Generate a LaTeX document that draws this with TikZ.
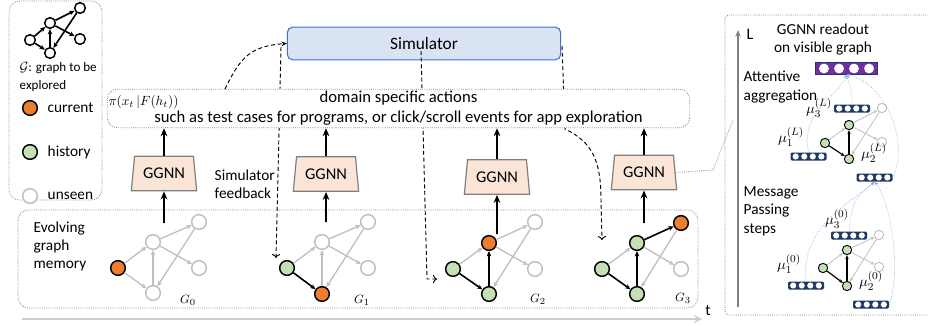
\documentclass[tikz,border=0pt]{standalone}
\usepackage{fontspec}
\setmainfont{Carlito}
\usetikzlibrary{shapes.geometric,arrows.meta}

\definecolor{orng}{RGB}{237,125,49}
\definecolor{grn}{RGB}{197,224,180}
\definecolor{lgray}{RGB}{191,191,191}
\definecolor{dgray}{RGB}{127,127,127}
\definecolor{peach}{RGB}{251,229,214}
\definecolor{simfill}{RGB}{218,227,243}
\definecolor{simline}{RGB}{68,114,196}
\definecolor{purp}{RGB}{112,48,160}
\definecolor{navy}{RGB}{31,56,100}
\definecolor{lblue}{RGB}{143,170,220}
\definecolor{tgray}{RGB}{205,205,205}

\tikzset{
  dotbox/.style={draw=dgray,densely dotted,line width=0.6pt,rounded corners=8pt},
  lnode/.style={circle,draw,line width=1.1pt,fill=white,minimum size=8pt,inner sep=0pt},
  cur/.style={circle,draw,line width=1.1pt,fill=orng,minimum size=11pt,inner sep=0pt},
  hist/.style={cur,fill=grn},
  unseen/.style={cur,draw=lgray,fill=white},
  gedge/.style={-{Stealth[length=4pt,width=3.5pt]},draw=lgray,line width=1pt},
  bedge/.style={-{Stealth[length=4pt,width=3.5pt]},line width=1.2pt},
  ggnn/.style={trapezium,trapezium stretches=true,trapezium left angle=78,trapezium right angle=78,
    draw=dgray,fill=peach,line width=0.9pt,minimum width=49pt,minimum height=26pt,inner sep=0pt,
    font=\fontsize{12.3}{14}\selectfont},
  up/.style={-{Stealth[length=6pt,width=5pt]},line width=1.4pt},
  dsh/.style={dash pattern=on 3pt off 2pt,line width=0.7pt},
  txt/.style={font=\fontsize{11.5}{13.5}\selectfont,align=left},
  pnode/.style={circle,draw,line width=0.7pt,fill=grn,minimum size=7pt,inner sep=0pt},
  pempty/.style={pnode,draw=lgray,fill=white},
  pgedge/.style={-{Stealth[length=3pt,width=2.5pt]},draw=lgray,line width=0.6pt},
  pbedge/.style={-{Stealth[length=3pt,width=2.5pt]},line width=0.9pt},
  vec/.style={fill=navy,rounded corners=1pt,minimum width=27pt,minimum height=6pt,inner sep=0pt},
  bigvec/.style={fill=purp,draw=navy,line width=0.6pt,minimum width=47pt,minimum height=8.5pt,inner sep=0pt},
  bl/.style={-{Stealth[length=3pt,width=2.5pt]},draw=lblue,densely dotted,line width=0.5pt},
  mu/.style={font=\fontsize{11}{13}\selectfont}
}

\begin{document}
\begin{tikzpicture}[x=0.75pt,y=-0.75pt]
\useasboundingbox (0,0) rectangle (928,325);

% legend
\draw[dotbox] (9,1) rectangle (102,200);
\node[lnode] (la) at (30,40) {};
\node[lnode] (lt) at (50,23) {};
\node[lnode] (lu) at (80,8) {};
\node[lnode] (lr) at (80,39) {};
\node[lnode] (lb) at (50,53) {};
\draw[bedge] (la)--(lt);
\draw[bedge] (la)--(lb);
\draw[bedge] (lb)--(lt);
\draw[bedge] (lt)--(lu);
\draw[bedge] (lu)--(lb);
\draw[bedge] (lt)--(lr);
\node[anchor=west,align=left,font=\fontsize{9.8}{13.2}\selectfont] (lg) at (15,77) {$\mathcal{G}$: graph to be\\explored};
\node[cur] (k1) at (30,108) {};
\node[hist] (k2) at (30,152) {};
\node[unseen] (k3) at (30,196) {};
\node[txt,anchor=west] at (43,108) {current};
\node[txt,anchor=west] at (43,152) {history};
\node[txt,anchor=west] at (43,196) {unseen};

% evolving graph memory
\draw[dotbox] (18,210) rectangle (698,308);
\node[txt,anchor=west] (mem) at (29,246) {Evolving\\graph\\memory};

\node[cur] (a0) at (118,268) {};
\node[unseen] (t0) at (153,242) {};
\node[unseen] (u0) at (199,222) {};
\node[unseen] (r0) at (199,268) {};
\node[unseen] (b0) at (153,293) {};
\draw[gedge] (a0)--(t0);
\draw[gedge] (a0)--(b0);
\draw[gedge] (b0)--(t0);
\draw[gedge] (t0)--(u0);
\draw[gedge] (u0)--(b0);
\draw[gedge] (t0)--(r0);
\node[font=\fontsize{9.5}{11}\selectfont] at (188,300) {$G_0$};

\node[hist] (a1) at (287,268) {};
\node[unseen] (t1) at (322,242) {};
\node[unseen] (u1) at (368,222) {};
\node[unseen] (r1) at (368,268) {};
\node[cur] (b1) at (322,294) {};
\draw[gedge] (a1)--(t1);
\draw[gedge] (b1)--(t1);
\draw[gedge] (t1)--(u1);
\draw[gedge] (u1)--(b1);
\draw[gedge] (t1)--(r1);
\draw[bedge] (a1)--(b1);
\node[font=\fontsize{9.5}{11}\selectfont] at (362,300) {$G_1$};

\node[hist] (a2) at (453,269) {};
\node[cur] (t2) at (489,243) {};
\node[unseen] (u2) at (535,222) {};
\node[unseen] (r2) at (535,269) {};
\node[hist] (b2) at (489,294) {};
\draw[gedge] (a2)--(t2);
\draw[gedge] (t2)--(u2);
\draw[gedge] (u2)--(b2);
\draw[gedge] (t2)--(r2);
\draw[bedge] (a2)--(b2);
\draw[bedge] (b2)--(t2);
\node[font=\fontsize{9.5}{11}\selectfont] at (538,299) {$G_2$};

\node[hist] (a3) at (602,269) {};
\node[hist] (t3) at (637,243) {};
\node[cur] (u3) at (681,223) {};
\node[unseen] (r3) at (681,269) {};
\node[hist] (b3) at (637,294) {};
\draw[gedge] (a3)--(t3);
\draw[gedge] (u3)--(b3);
\draw[gedge] (t3)--(r3);
\draw[bedge] (a3)--(b3);
\draw[bedge] (b3)--(t3);
\draw[bedge] (t3)--(u3);
\node[font=\fontsize{9.5}{11}\selectfont] at (683,298) {$G_3$};

% time axis
\draw[tgray,line width=2.2pt,-{Stealth[length=6pt,width=6pt]}] (22,319) -- (702,319);
\node[font=\fontsize{12}{14}\selectfont] (t) at (708,310) {t};

% simulator and feedback
\node[draw=simline,fill=simfill,rounded corners=4pt,line width=0.8pt,minimum width=205pt,minimum height=24.5pt,
  font=\fontsize{13}{15}\selectfont] (sim) at (424,43.5) {Simulator};
\coordinate (s1) at (281,47);
\coordinate (f1) at (276,258);
\coordinate (s2) at (421,51);
\coordinate (f2) at (437,279);
\coordinate (s3) at (562,46);
\coordinate (f3) at (602,240);
\draw[dsh,-{To[length=3pt]}] (s1) -- (f1);
\draw[dsh,-{To[length=3pt]}] (s2) -- (427,279) -- (f2);
\draw[dsh,-{To[length=3pt]}] (s3) -- (565,129) .. controls (592,142) and (601,160) .. (601,200) -- (f3);
\node[txt,anchor=west] (fb) at (210,184) {Simulator\\feedback};

% actions
\node[dotbox,fill=white,minimum width=437pt,minimum height=29pt,inner sep=0pt,align=center,
  font=\fontsize{12.5}{15}\selectfont] (act) at (398.5,108.5)
  {domain specific actions\\such as test cases for programs, or click/scroll events for app exploration};
\node[anchor=west,inner sep=1pt,font=\fontsize{10}{12}\selectfont] (pi) at (107,102) {$\pi(x_t\,|F(h_t))$};
\coordinate (c0) at (225,89);
\draw[dsh,-{Stealth[length=4pt,width=3.5pt]}] (c0) .. controls (240,58) and (250,46) .. (sim.west);

% GGNN
\node[ggnn] (n1) at (164,173.5) {GGNN};
\node[ggnn] (n2) at (326,174) {GGNN};
\node[ggnn] (n3) at (497,177) {GGNN};
\node[ggnn] (n4) at (644,172.5) {GGNN};
\coordinate (c1) at (164,223);
\coordinate (c2) at (326,222);
\coordinate (c3) at (497,234);
\coordinate (c4) at (644,223);
\draw[up] (c1) -- (n1.south);
\draw[up] (c2) -- (n2.south);
\draw[up] (c3) -- (n3.south);
\draw[up] (c4) -- (n4.south);
\draw[up] (n1.north) -- (n1.north |- act.south);
\draw[up] (n2.north) -- (n2.north |- act.south);
\draw[up] (n3.north) -- (n3.north |- act.south);
\draw[up] (n4.north) -- (n4.north |- act.south);

% zoom on one GGNN
\draw[dotbox,rounded corners=3pt] (725,15) rectangle (940,315);
\coordinate (p2) at (713,170);
\coordinate (p1) at (733,120);
\draw[draw=dgray,densely dotted,line width=0.6pt] (n4.east) -- (p2) -- (p1);
\draw[dgray,line width=1.5pt,-{Stealth[length=5pt,width=4pt]}] (738,307) -- (738,30);
\node[font=\fontsize{12}{14}\selectfont] (L) at (750,34) {L};
\node[txt,align=center] (ro) at (823,39) {GGNN readout\\on visible graph};
\node[txt,anchor=west,font=\fontsize{11.5}{14}\selectfont] (att) at (739,87) {Attentive\\aggregation};
\node[txt,anchor=west,font=\fontsize{11.5}{14}\selectfont] (msg) at (739,211) {Message\\Passing\\steps};

\node[bigvec] (pv) at (846.5,68.5) {};
\foreach \i in {-16.9,-5.6,5.6,16.9} \fill[white] (pv) ++(\i pt,0pt) circle (3.7pt);

% upper layer
\node[pnode] (pa) at (825,143) {};
\node[pnode] (pt) at (849,125) {};
\node[pempty] (pu) at (882,108) {};
\node[pempty] (pr) at (882,142) {};
\node[pnode] (pb) at (849,159) {};
\draw[pgedge] (pa)--(pt);
\draw[pgedge] (pt)--(pu);
\draw[pgedge] (pu)--(pb);
\draw[pgedge] (pt)--(pr);
\draw[pbedge] (pa)--(pb);
\draw[pbedge] (pb)--(pt);
\node[vec] (v3L) at (852,108.5) {};
\node[vec] (v1L) at (808.5,156.5) {};
\node[vec] (v2L) at (874.5,177.5) {};
\foreach \v in {v3L,v1L,v2L}
  \foreach \i in {-9.6,-3.2,3.2,9.6} \fill[white] (\v) ++(\i pt,0pt) circle (2.3pt);
\node[mu] at (819,108) {$\mu_3^{(L)}$};
\node[mu] at (791,137) {$\mu_1^{(L)}$};
\node[mu] at (874,153) {$\mu_2^{(L)}$};
\draw[bl] (v1L.north) .. controls (800,110) and (838,98) .. (pv.south);
\draw[bl] (v3L.north) .. controls (852,92) .. (pv.south);
\draw[bl] (v2L.east) .. controls (908,150) and (892,86) .. (pv.south);

% lower layer
\node[pnode] (qa) at (823,268) {};
\node[pnode] (qt) at (847,250) {};
\node[pempty] (qu) at (879,235) {};
\node[pempty] (qr) at (879,267) {};
\node[pnode] (qb) at (847,286) {};
\draw[pgedge] (qa)--(qt);
\draw[pgedge] (qt)--(qu);
\draw[pgedge] (qu)--(qb);
\draw[pgedge] (qt)--(qr);
\draw[pbedge] (qa)--(qb);
\draw[pbedge] (qb)--(qt);
\node[vec] (v30) at (849,235.5) {};
\node[vec] (v10) at (806,285.5) {};
\node[vec] (v20) at (871,304.5) {};
\foreach \v in {v30,v10,v20}
  \foreach \i in {-9.6,-3.2,3.2,9.6} \fill[white] (\v) ++(\i pt,0pt) circle (2.3pt);
\node[mu] at (837,219) {$\mu_3^{(0)}$};
\node[mu] at (789,264) {$\mu_1^{(0)}$};
\node[mu] at (871,281) {$\mu_2^{(0)}$};
\draw[bl] (v10.north) .. controls (800,225) and (855,200) .. (v2L.south);
\draw[bl] (v30.north) .. controls (853,200) .. (v2L.south);
\draw[bl] (v20.east) .. controls (902,270) and (890,200) .. (v2L.south);
\end{tikzpicture}
\end{document}
